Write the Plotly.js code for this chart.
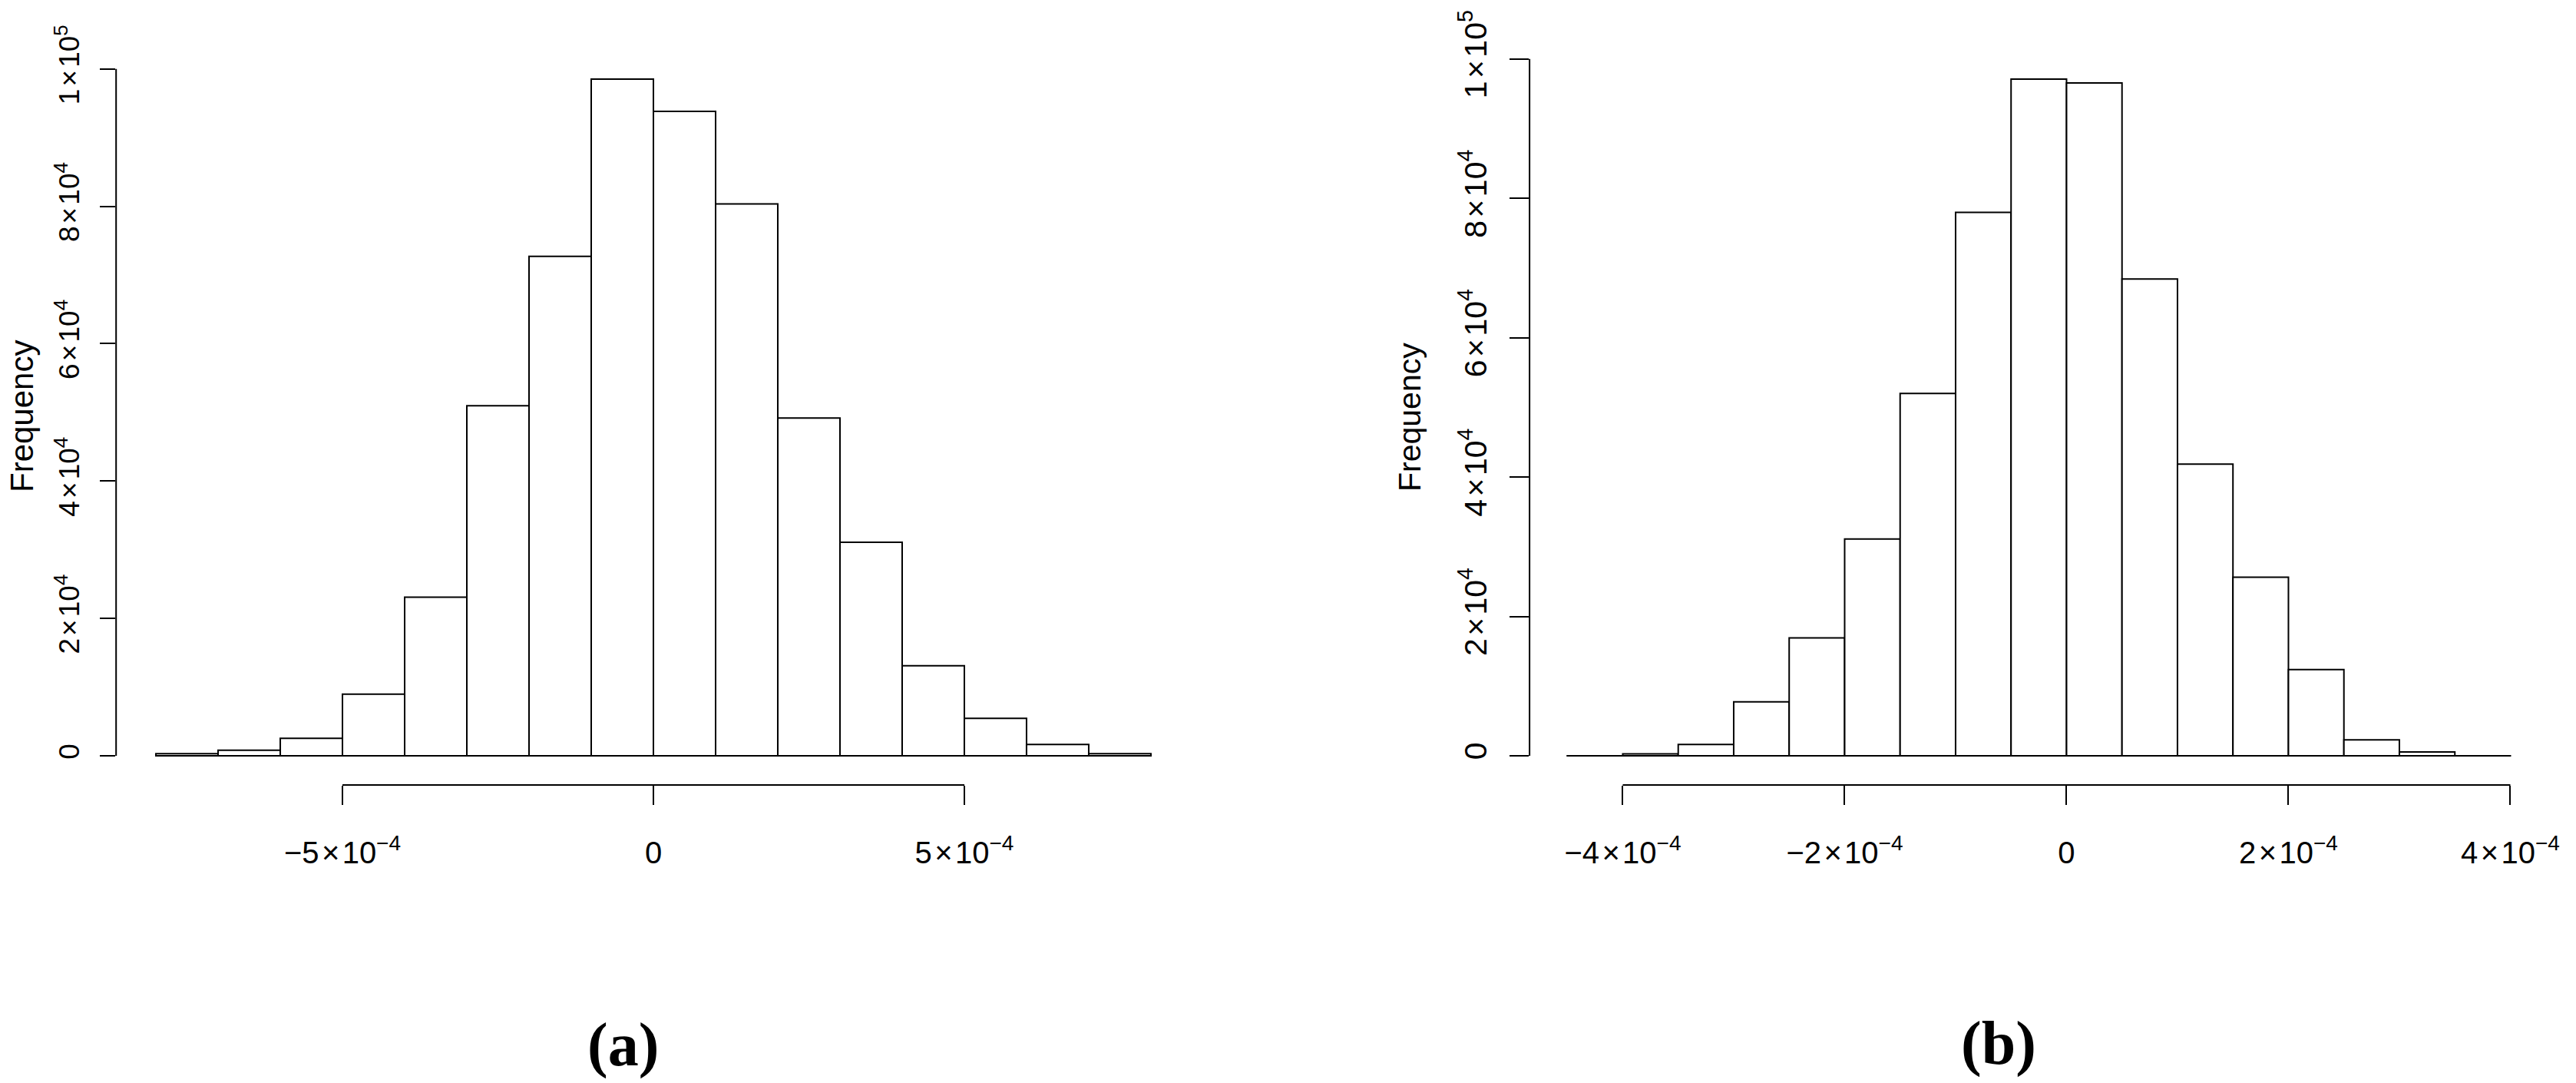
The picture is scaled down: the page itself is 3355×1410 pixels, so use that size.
<!DOCTYPE html>
<html>
<head>
<meta charset="utf-8">
<script src="https://cdn.plot.ly/plotly-3.0.1.min.js"></script>
<style>
html, body { margin: 0; padding: 0; background: #ffffff; }
#chart { width: 3355px; height: 1410px; }
</style>
</head>
<body>
<div id="chart"></div>
<script>
// ---------- Data: panel (a) ----------
const binLeftA = [-8e-4, -7e-4, -6e-4, -5e-4, -4e-4, -3e-4, -2e-4, -1e-4, 0, 1e-4, 2e-4, 3e-4, 4e-4, 5e-4, 6e-4, 7e-4];
const binWidthA = 1e-4;
const countsA = [300, 800, 2550, 8980, 23100, 50970, 72720, 98530, 93820, 80350, 49190, 31080, 13110, 5450, 1640, 300];
const xTickValsA = [-5e-4, 0, 5e-4];
const xTickTextA = ['\u22125\u200a\u00d7\u200a10<sup>\u22124</sup>', '0', '5\u200a\u00d7\u200a10<sup>\u22124</sup>'];

// ---------- Data: panel (b) ----------
const binLeftB = [-4.5e-4, -4e-4, -3.5e-4, -3e-4, -2.5e-4, -2e-4, -1.5e-4, -1e-4, -0.5e-4, 0, 0.5e-4, 1e-4, 1.5e-4, 2e-4, 2.5e-4, 3e-4, 3.5e-4];
const binWidthB = 0.5e-4;
const countsB = [20, 300, 1650, 7750, 16930, 31130, 52000, 78000, 97110, 96550, 68440, 41870, 25650, 12370, 2300, 550, 20];
const xTickValsB = [-4e-4, -2e-4, 0, 2e-4, 4e-4];
const xTickTextB = ['\u22124\u200a\u00d7\u200a10<sup>\u22124</sup>', '\u22122\u200a\u00d7\u200a10<sup>\u22124</sup>', '0', '2\u200a\u00d7\u200a10<sup>\u22124</sup>', '4\u200a\u00d7\u200a10<sup>\u22124</sup>'];

// ---------- Shared y ticks / labels ----------
const yTickVals = [0, 2e4, 4e4, 6e4, 8e4, 1e5];
const yTickText = ['0', '2\u200a\u00d7\u200a10<sup>4</sup>', '4\u200a\u00d7\u200a10<sup>4</sup>', '6\u200a\u00d7\u200a10<sup>4</sup>', '8\u200a\u00d7\u200a10<sup>4</sup>', '1\u200a\u00d7\u200a10<sup>5</sup>'];
const yTitleText = 'Frequency';
const panelLabels = ['(a)', '(b)'];

// ---------- Layout helpers (pixel -> paper) ----------
const W = 3355, H = 1410;
const fx = p => p / W;
const fy = p => 1 - p / H;
const FONT = 'Liberation Sans, Arial, Helvetica, sans-serif';
const SERIF = 'Liberation Serif, Times New Roman, serif';

function barTrace(xs, ys, w, xa, ya) {
  return {
    type: 'bar', x: xs, y: ys, width: w, offset: 0,
    xaxis: xa, yaxis: ya,
    marker: { color: '#ffffff', line: { color: '#000000', width: 2 } },
    hoverinfo: 'skip', showlegend: false
  };
}

const data = [
  barTrace(binLeftA, countsA, binWidthA, 'x', 'y'),
  barTrace(binLeftB, countsB, binWidthB, 'x2', 'y2')
];

const axCommon = {
  showgrid: false, zeroline: false, showline: false,
  ticks: 'outside', tickwidth: 2, tickcolor: '#000000',
  tickmode: 'array', fixedrange: true
};

const layout = {
  width: W, height: H,
  margin: { l: 0, r: 0, t: 0, b: 0, pad: 0 },
  paper_bgcolor: '#ffffff', plot_bgcolor: '#ffffff',
  font: { family: FONT, color: '#000000' },
  bargap: 0,
  showlegend: false,
  xaxis: Object.assign({}, axCommon, {
    anchor: 'y', domain: [fx(151.2), fx(1550.8)], range: [-8.64e-4, 8.64e-4],
    tickvals: xTickValsA, ticktext: xTickTextA, ticklen: 25, ticklabelstandoff: 28,
    tickfont: { family: FONT, size: 40, color: '#000000' }
  }),
  yaxis: Object.assign({}, axCommon, {
    anchor: 'x', domain: [fy(1022), fy(68)], range: [-4250, 102437],
    tickvals: yTickVals, ticktext: yTickText, ticklen: 20, tickangle: -90, ticklabelstandoff: 12,
    tickfont: { family: FONT, size: 37, color: '#000000' }
  }),
  xaxis2: Object.assign({}, axCommon, {
    anchor: 'y2', domain: [fx(1992.1), fx(3318.6)], range: [-4.84e-4, 4.34e-4],
    tickvals: xTickValsB, ticktext: xTickTextB, ticklen: 25, ticklabelstandoff: 28,
    tickfont: { family: FONT, size: 40, color: '#000000' }
  }),
  yaxis2: Object.assign({}, axCommon, {
    anchor: 'x2', domain: [fy(1022), fy(67.8)], range: [-4177, 100994],
    tickvals: yTickVals, ticktext: yTickText, ticklen: 25, tickangle: -90, ticklabelstandoff: 14,
    tickfont: { family: FONT, size: 41, color: '#000000' }
  }),
  shapes: [
    { type: 'line', xref: 'x', yref: 'y domain', x0: xTickValsA[0], x1: xTickValsA[xTickValsA.length - 1], y0: 0, y1: 0, line: { color: '#000000', width: 2 } },
    { type: 'line', xref: 'x domain', yref: 'y', x0: 0, x1: 0, y0: yTickVals[0], y1: yTickVals[yTickVals.length - 1], line: { color: '#000000', width: 2 } },
    { type: 'line', xref: 'x2', yref: 'y2 domain', x0: xTickValsB[0], x1: xTickValsB[xTickValsB.length - 1], y0: 0, y1: 0, line: { color: '#000000', width: 2 } },
    { type: 'line', xref: 'x2 domain', yref: 'y2', x0: 0, x1: 0, y0: yTickVals[0], y1: yTickVals[yTickVals.length - 1], line: { color: '#000000', width: 2 } }
  ],
  annotations: [
    { xref: 'paper', yref: 'paper', x: fx(28), y: fy(542), text: yTitleText, textangle: -90, showarrow: false,
      xanchor: 'center', yanchor: 'middle', font: { family: FONT, size: 42, color: '#000000' } },
    { xref: 'paper', yref: 'paper', x: fx(1836), y: fy(543), text: yTitleText, textangle: -90, showarrow: false,
      xanchor: 'center', yanchor: 'middle', font: { family: FONT, size: 41, color: '#000000' } },
    { xref: 'paper', yref: 'paper', x: fx(811), y: fy(1360), text: '<b>' + panelLabels[0] + '</b>', showarrow: false,
      xanchor: 'center', yanchor: 'middle', font: { family: SERIF, size: 80, color: '#000000' } },
    { xref: 'paper', yref: 'paper', x: fx(2603), y: fy(1358), text: '<b>' + panelLabels[1] + '</b>', showarrow: false,
      xanchor: 'center', yanchor: 'middle', font: { family: SERIF, size: 80, color: '#000000' } }
  ]
};

Plotly.newPlot('chart', data, layout, { displayModeBar: false, staticPlot: true });
</script>
</body>
</html>
